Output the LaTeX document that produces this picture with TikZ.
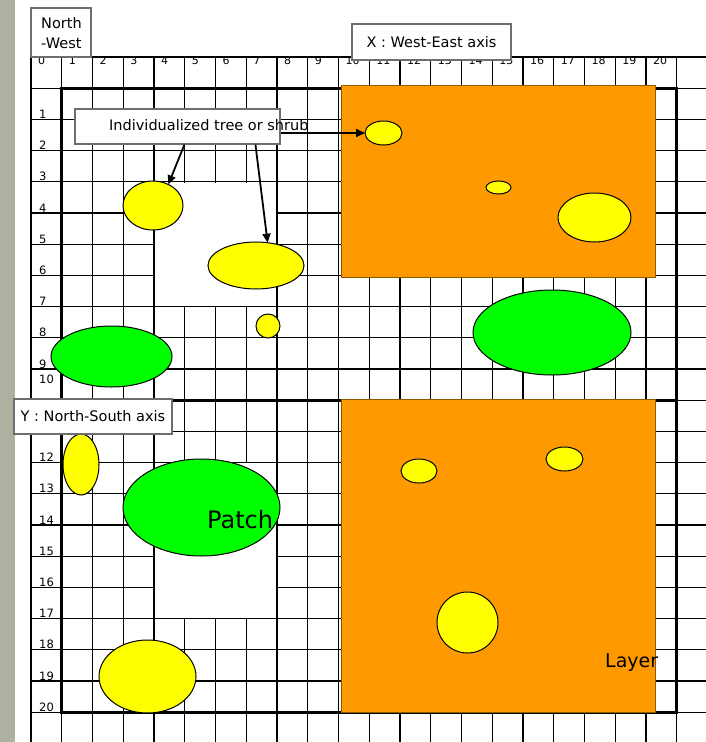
\documentclass[tikz,border=0pt]{standalone}
\usepackage{fontspec}
\setmainfont{DejaVu Sans}
\usetikzlibrary{shapes.geometric,arrows.meta,calc}
\definecolor{orng}{HTML}{FF9900}
\definecolor{ylw}{HTML}{FFFF00}
\definecolor{grn}{HTML}{00FF00}
\definecolor{boxline}{HTML}{6E6E6E}
\definecolor{strip}{HTML}{AEB1A0}
\definecolor{orngline}{HTML}{8C5A00}
\begin{document}
\begin{tikzpicture}[x=1pt,y=-1pt,
  gridline/.style={draw=black,line width=1.25pt},
  thickline/.style={draw=black,line width=3pt},
  layerstyle/.style={fill=orng,draw=orngline,line width=0.8pt},
  blob/.style={ellipse,draw=black,line width=1pt,inner sep=0pt,outer sep=0pt},
  tree/.style={blob,fill=ylw},
  patchblob/.style={blob,fill=grn},
  labelbox/.style={rectangle,draw=boxline,fill=white,line width=1.1pt,inner sep=0pt,
    font=\fontsize{14.5}{17}\selectfont},
  collabel/.style={anchor=base west,inner sep=0pt,font=\fontsize{11}{12}\selectfont},
  rowlabel/.style={anchor=base west,inner sep=0pt,font=\fontsize{11.5}{12}\selectfont},
  pointer/.style={draw=black,line width=1.8pt,-{Triangle[length=9pt,width=8pt]}}
]
\useasboundingbox (0,0) rectangle (706,742);
\fill[white] (0,0) rectangle (706,742);
\fill[strip] (0,0) rectangle (15,742);

% grid
\foreach \i in {0,...,21} \draw[gridline] ({31+30.75*\i},57) -- ({31+30.75*\i},742);
\foreach \j in {0,...,21} \draw[gridline] (31,{57+31.2*\j}) -- (706,{57+31.2*\j});

% white patches without inner grid
\fill[white] (154.7,182.5) rectangle (276.3,305.9);
\fill[white] (154.7,463.3) rectangle (276.3,617.9);

% thick lines
\draw[thickline] (61.75,88.2) rectangle (676.75,712.2);
\draw[thickline] (61.75,400.2) -- (676.75,400.2);

% column labels
\begin{scope}
\clip (31,57.6) rectangle (706,88);
\foreach \k in {0,...,20} \node[collabel] (col\k) at ({31+30.75*\k+7},64.5) {\k};
\end{scope}

% row labels
\foreach \k in {1,2,3,4,5,6,7,8,9,12,13,14,15,16,17,18,19,20}
  \node[rowlabel] (row\k) at (39,{57+31.2*(\k+1)-1}) {\k};
\node[rowlabel] (row10) at (39,383.5) {10};

% layers
\draw[layerstyle] (341,85) rectangle (655,277);
\draw[layerstyle] (341,399) rectangle (655,712);

% trees and patches
\node[tree,minimum width=60pt,minimum height=49pt] (e1) at (153,205.5) {};
\node[tree,minimum width=96pt,minimum height=47pt] (e2) at (256,265.5) {};
\node[tree,minimum width=24pt,minimum height=24pt] (e3) at (268,326) {};
\node[patchblob,minimum width=121pt,minimum height=61pt] (g1) at (111.5,356.5) {};
\node[tree,minimum width=37pt,minimum height=24pt] (e4) at (383.5,133) {};
\node[tree,minimum width=25pt,minimum height=13pt] (e5) at (498.5,187.5) {};
\node[tree,minimum width=73pt,minimum height=49pt] (e6) at (594.5,217.5) {};
\node[patchblob,minimum width=158pt,minimum height=85pt] (g2) at (552,332.5) {};
\node[tree,minimum width=36pt,minimum height=61pt] (e7) at (81,464.5) {};
\node[patchblob,minimum width=157pt,minimum height=97pt] (g3) at (201.5,507.5) {};
\node[tree,minimum width=97pt,minimum height=73pt] (e8) at (147.5,676.5) {};
\node[tree,minimum width=36pt,minimum height=24pt] (e9) at (419,471) {};
\node[tree,minimum width=37pt,minimum height=24pt] (e10) at (564.5,459) {};
\node[tree,minimum width=61pt,minimum height=61pt] (e11) at (467.5,622.5) {};

% texts
\node[anchor=base west,inner sep=0pt,font=\fontsize{24}{28}\selectfont] (patch) at (207,528) {Patch};
\node[anchor=base west,inner sep=0pt,font=\fontsize{19}{22}\selectfont] (layer) at (605,667) {Layer};

% label boxes
\node[labelbox,minimum width=60pt,minimum height=49pt] (nwbox) at (61,32.5) {};
\node[anchor=base west,inner sep=0pt,font=\fontsize{14.5}{17}\selectfont] (nw1) at (41,28) {North};
\node[anchor=base west,inner sep=0pt,font=\fontsize{14.5}{17}\selectfont] (nw2) at (41,48) {-West};
\node[labelbox,minimum width=159pt,minimum height=36pt] (xbox) at (431.5,42) {X : West-East axis};
\node[labelbox,minimum width=158pt,minimum height=35pt] (ybox) at (93,416.5) {Y : North-South axis};
\node[labelbox,minimum width=205pt,minimum height=35pt] (ibox) at (177.5,126.5) {};
\node[anchor=base west,inner sep=0pt,font=\fontsize{14.5}{17}\selectfont] (itext) at (109,130.5) {Individualized tree or shrub};

% pointers
\draw[pointer] ($(ibox.south west)+(110,0)$) -- (e1.54);
\draw[pointer] ($(ibox.south west)+(181,0)$) -- (e2.63);
\draw[pointer] (ibox.east |- e4.west) -- (e4.west);
\end{tikzpicture}
\end{document}
